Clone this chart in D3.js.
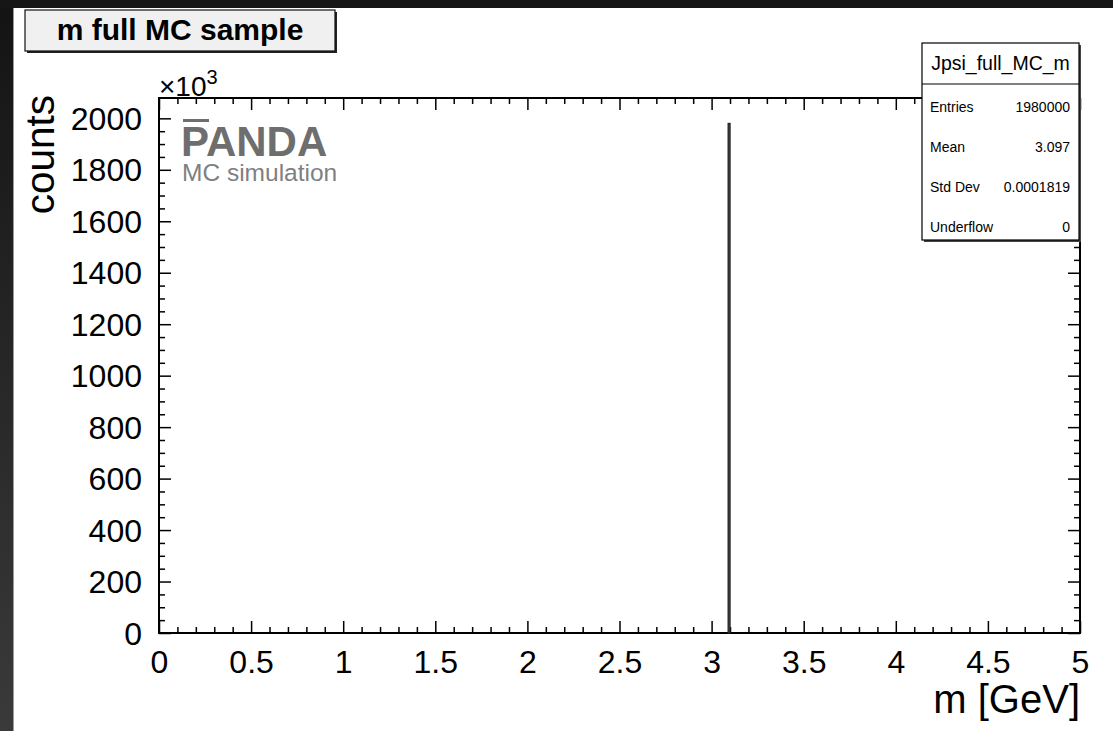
<!DOCTYPE html>
<html>
<head>
<meta charset="utf-8">
<script src="https://cdn.jsdelivr.net/npm/d3@7"></script>
<style>
  html, body { margin: 0; padding: 0; background: #1a1a1a; }
  svg { display: block; }
  text { font-family: "Liberation Sans", Arial, Helvetica, sans-serif; }
</style>
</head>
<body>
<svg id="chart" width="1113" height="731"></svg>
<script>
// ---- data ----
const binLow = [3.09];
const binHigh = [3.10];
const counts = [1980000];
const xTickValues = [0, 0.5, 1, 1.5, 2, 2.5, 3, 3.5, 4, 4.5, 5];
const xTickLabels = ["0", "0.5", "1", "1.5", "2", "2.5", "3", "3.5", "4", "4.5", "5"];
const yTickValues = [0, 200, 400, 600, 800, 1000, 1200, 1400, 1600, 1800, 2000];
const yTickLabels = ["0", "200", "400", "600", "800", "1000", "1200", "1400", "1600", "1800", "2000"];
const statsLabels = ["Entries", "Mean", "Std Dev", "Underflow"];
const statsValues = ["1980000", "3.097", "0.0001819", "0"];
const histName = "Jpsi_full_MC_m";
const titleText = "m full MC sample";
const xTitle = "m [GeV]";
const yTitle = "counts";
const yMax = 2079; // in units of 10^3

// ---- layout ----
const W = 1113, H = 731;
const L = 159, R = 1080, T = 98, B = 633;
const svg = d3.select("#chart");

// background with dark border strips
const defs = svg.append("defs");
const grad = defs.append("linearGradient").attr("id", "leftg").attr("x1", 0).attr("y1", 0).attr("x2", 0).attr("y2", 1);
grad.append("stop").attr("offset", "0%").attr("stop-color", "#141414");
grad.append("stop").attr("offset", "100%").attr("stop-color", "#3a3a3a");
svg.append("rect").attr("width", W).attr("height", H).attr("fill", "#161616");
svg.append("rect").attr("x", 0).attr("y", 8).attr("width", 14).attr("height", H - 8).attr("fill", "url(#leftg)");
svg.append("rect").attr("x", 13).attr("y", 8).attr("width", 1).attr("height", H - 8).attr("fill", "#9a9a9a");
svg.append("rect").attr("x", 14).attr("y", 8).attr("width", W - 14).attr("height", H - 8).attr("fill", "#ffffff");

const x = d3.scaleLinear().domain([0, 5]).range([L, R]);
const y = d3.scaleLinear().domain([0, yMax]).range([B, T]);

const xMinor = d3.range(0, 50.5).map(i => i / 10).filter(v => !xTickValues.includes(v));
const yMinor = d3.range(0, 2050, 50).filter(v => !yTickValues.includes(v));

function styleAxis(g) {
  g.select(".domain").remove();
  g.selectAll(".tick line").attr("stroke", "#000").attr("stroke-width", 1.5);
}

// bottom axis
svg.append("g").attr("transform", `translate(0,${B})`)
  .call(d3.axisBottom(x).tickValues(xMinor).tickSize(-6).tickFormat(""))
  .call(styleAxis);
const gx = svg.append("g").attr("transform", `translate(0,${B})`)
  .call(d3.axisBottom(x).tickValues(xTickValues).tickSize(-12)
    .tickFormat((d, i) => xTickLabels[i]))
  .call(styleAxis);
gx.selectAll("text").attr("y", 40).attr("dy", null)
  .attr("font-size", 32).attr("fill", "#000")
  .attr("font-family", "'Liberation Sans', Arial, sans-serif");

// top axis
svg.append("g").attr("transform", `translate(0,${T})`)
  .call(d3.axisTop(x).tickValues(xMinor).tickSize(-6).tickFormat(""))
  .call(styleAxis);
svg.append("g").attr("transform", `translate(0,${T})`)
  .call(d3.axisTop(x).tickValues(xTickValues).tickSize(-12).tickFormat(""))
  .call(styleAxis);

// left axis
svg.append("g").attr("transform", `translate(${L},0)`)
  .call(d3.axisLeft(y).tickValues(yMinor).tickSize(-6).tickFormat(""))
  .call(styleAxis);
const gy = svg.append("g").attr("transform", `translate(${L},0)`)
  .call(d3.axisLeft(y).tickValues(yTickValues).tickSize(-12).tickPadding(17)
    .tickFormat((d, i) => yTickLabels[i]))
  .call(styleAxis);
gy.selectAll("text").attr("font-size", 32).attr("fill", "#000").attr("dy", "0.35em")
  .attr("font-family", "'Liberation Sans', Arial, sans-serif");

// right axis
svg.append("g").attr("transform", `translate(${R},0)`)
  .call(d3.axisRight(y).tickValues(yMinor).tickSize(-6).tickFormat(""))
  .call(styleAxis);
svg.append("g").attr("transform", `translate(${R},0)`)
  .call(d3.axisRight(y).tickValues(yTickValues).tickSize(-12).tickFormat(""))
  .call(styleAxis);

// frame
svg.append("rect").attr("x", L).attr("y", T).attr("width", R - L).attr("height", B - T)
  .attr("fill", "none").attr("stroke", "#000").attr("stroke-width", 2);

// histogram
svg.append("g").selectAll("rect.bin").data(counts).join("rect")
  .attr("class", "bin")
  .attr("x", (d, i) => x(binLow[i]))
  .attr("width", (d, i) => x(binHigh[i]) - x(binLow[i]))
  .attr("y", d => y(d / 1000))
  .attr("height", d => y(0) - y(d / 1000))
  .attr("fill", "#555").attr("stroke", "#222").attr("stroke-width", 1.3);

// exponent label
const expT = svg.append("text").attr("x", 159).attr("y", 96).attr("font-size", 28).attr("fill", "#000");
expT.append("tspan").text("\u00d710");
expT.append("tspan").attr("dy", -12).attr("font-size", 20).text("3");

// axis titles
svg.append("text").attr("x", R).attr("y", 713).attr("text-anchor", "end")
  .attr("font-size", 40).attr("fill", "#000").text(xTitle);
svg.append("text").attr("transform", "translate(54,95) rotate(-90)").attr("text-anchor", "end")
  .attr("font-size", 40.5).attr("fill", "#000").text(yTitle);

// PANDA logo
svg.append("text").attr("x", 181).attr("y", 156).attr("font-size", 42).attr("font-weight", "bold")
  .attr("fill", "#6e6e6e").text("PANDA");
svg.append("rect").attr("x", 183).attr("y", 119).attr("width", 26).attr("height", 3).attr("fill", "#6e6e6e");
svg.append("text").attr("x", 182).attr("y", 181).attr("font-size", 24.5)
  .attr("fill", "#808080").text("MC simulation");

// title box
svg.append("rect").attr("x", 27).attr("y", 12).attr("width", 310).attr("height", 41).attr("fill", "#222");
svg.append("rect").attr("x", 25).attr("y", 10).attr("width", 310).attr("height", 41)
  .attr("fill", "#f0f0f0").attr("stroke", "#111").attr("stroke-width", 1.2);
svg.append("text").attr("x", 180).attr("y", 40).attr("text-anchor", "middle")
  .attr("font-size", 30).attr("font-weight", "bold").attr("fill", "#000").text(titleText);

// stats box
const sx0 = 922, sx1 = 1079, sy0 = 43, sy1 = 240, sHead = 84;
svg.append("rect").attr("x", sx0 + 2).attr("y", sy0 + 2).attr("width", sx1 - sx0).attr("height", sy1 - sy0).attr("fill", "#444");
svg.append("rect").attr("x", sx0).attr("y", sy0).attr("width", sx1 - sx0).attr("height", sy1 - sy0)
  .attr("fill", "#fff").attr("stroke", "#000").attr("stroke-width", 1.2);
svg.append("line").attr("x1", sx0).attr("x2", sx1).attr("y1", sHead).attr("y2", sHead)
  .attr("stroke", "#000").attr("stroke-width", 1.2);
svg.append("text").attr("x", (sx0 + sx1) / 2).attr("y", 70).attr("text-anchor", "middle")
  .attr("font-size", 19.5).attr("fill", "#000").text(histName);
const rowY = [112, 152, 192, 232];
svg.append("g").selectAll("text").data(statsLabels).join("text")
  .attr("x", 930).attr("y", (d, i) => rowY[i]).attr("font-size", 14).attr("fill", "#000").text(d => d);
svg.append("g").selectAll("text").data(statsValues).join("text")
  .attr("x", 1070).attr("y", (d, i) => rowY[i]).attr("text-anchor", "end")
  .attr("font-size", 14).attr("fill", "#000").text(d => d);
</script>
</body>
</html>
